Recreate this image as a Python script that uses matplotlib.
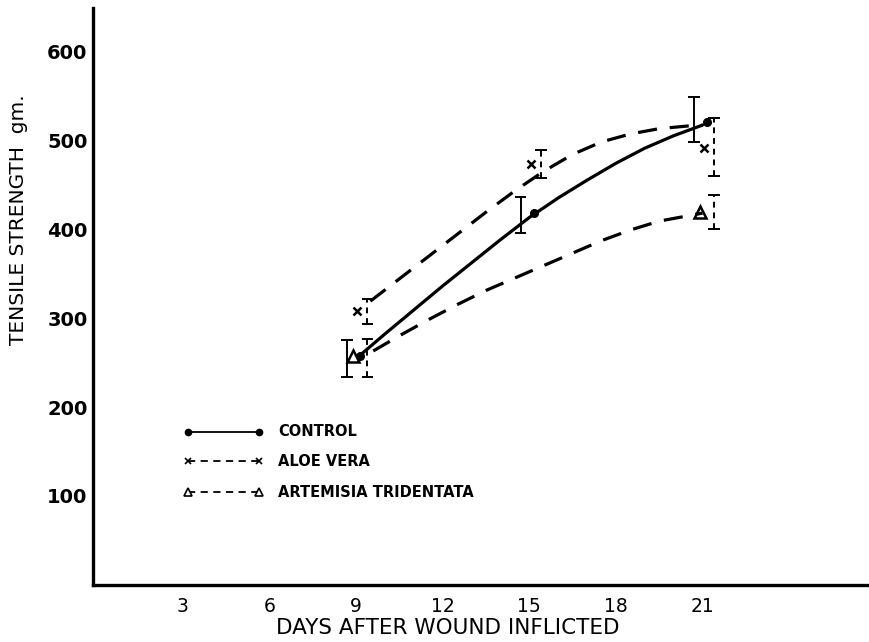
import numpy as np
import matplotlib
matplotlib.use("Agg")
import matplotlib.pyplot as plt

# measured points (days after wound, tensile strength gm.)
days = [9, 15, 21]
control = [257, 418, 521]
control_lo = [234, 396, 498]
control_hi = [275, 436, 549]

aloe_days = [9, 15, 21]
aloe = [308, 473, 491]
aloe_lo = [293, 457, 460]
aloe_hi = [321, 489, 525]

art_days = [9, 21]
artemisia = [257, 419]
art_lo = [234, 400]
art_hi = [276, 438]

# fitted curves
control_curve_x = [9.1, 10, 11, 12, 13, 14, 15, 16, 17, 18, 19, 20, 21]
control_curve_y = [257, 282, 309, 336, 362, 388, 413, 435, 455, 474, 491, 505, 517]
aloe_curve_x = [9.5, 10.5, 11.5, 12.5, 13.5, 14.5, 15.5, 16.5, 17.5, 18.5, 19.5, 20.5, 21]
aloe_curve_y = [319, 344, 369, 394, 419, 443, 465, 484, 498, 507, 513, 516, 517]
art_curve_x = [9.6, 10.5, 11.5, 12.5, 13.5, 14.5, 15.5, 16.5, 17.5, 18.5, 19.5, 20.5, 21]
art_curve_y = [263, 280, 298, 315, 331, 345, 359, 373, 387, 399, 409, 415, 418]

xticks = [3, 6, 9, 12, 15, 18, 21]
yticks = [100, 200, 300, 400, 500, 600]

fig = plt.figure(figsize=(8.7, 6.42), dpi=100)
ax = fig.add_axes([0.107, 0.089, 0.893, 0.899])

# curves
ax.plot(control_curve_x, control_curve_y, color="black", lw=2.3, solid_capstyle="round")
ax.plot(aloe_curve_x, aloe_curve_y, color="black", lw=2.3, dashes=(6, 4))
ax.plot(art_curve_x, art_curve_y, color="black", lw=2.3, dashes=(6, 4))


def error_bars(xs, lo, hi, dashed):
    ls = (0, (3, 2.5)) if dashed else "solid"
    ax.vlines(xs, lo, hi, color="black", lw=1.4, linestyles=ls)
    ends = np.concatenate([lo, hi])
    bx = np.tile(xs, 2)
    ax.hlines(ends, bx - 0.2, bx + 0.2, color="black", lw=1.4)


# control bars sit left of the point, treatment bars right
error_bars(np.array(days) - 0.3, control_lo, control_hi, False)
error_bars(np.array(aloe_days) + 0.4, aloe_lo, aloe_hi, True)
error_bars(np.array(art_days) + 0.4, art_lo, art_hi, True)

# markers
ax.plot(np.array(days) + 0.15, control, "o", color="black", ms=5.5)
ax.plot(np.array(aloe_days) + 0.05, aloe, "x", color="black", ms=6, mew=1.8)
ax.plot(np.array(art_days) - 0.1, artemisia, "^", color="black", mfc="none", ms=8, mew=1.8)

# hand drawn style legend
lx0, lx1 = 3.2, 5.65
ax.plot([lx0, lx1], [172, 172], color="black", lw=1.3, marker="o", ms=4.5)
ax.plot([lx0, lx1], [139, 139], color="black", lw=1.3, dashes=(4, 3), marker="x", ms=5, mew=1.2)
ax.plot([lx0, lx1], [104, 104], color="black", lw=1.3, dashes=(4, 3), marker="^", mfc="white", ms=6, mew=1.2)
tkw = dict(fontsize=10.5, fontweight="bold", va="center", ha="left")
ax.text(6.3, 172, "CONTROL", **tkw)
ax.text(6.3, 139, "ALOE VERA", **tkw)
ax.text(6.3, 104, "ARTEMISIA TRIDENTATA", **tkw)

ax.set_xlim(-0.1, 26.8)
ax.set_ylim(0, 649)
ax.set_xticks(xticks)
ax.set_xticklabels([str(t) for t in xticks], fontsize=13.5)
ax.set_yticks(yticks)
ax.set_yticklabels([str(t) for t in yticks], fontsize=14, fontweight="bold")
ax.tick_params(length=0, pad=4)
ax.tick_params(axis="x", pad=9)
for s in ["top", "right"]:
    ax.spines[s].set_visible(False)
for s in ["left", "bottom"]:
    ax.spines[s].set_linewidth(2.4)

ax.set_xlabel("DAYS AFTER WOUND INFLICTED", fontsize=15.5)
ax.xaxis.set_label_coords(0.457, -0.058)
ax.set_ylabel("TENSILE STRENGTH  gm.", fontsize=14.5)
ax.yaxis.set_label_coords(-0.084, 0.633)

fig.savefig("out.png", dpi=100)
